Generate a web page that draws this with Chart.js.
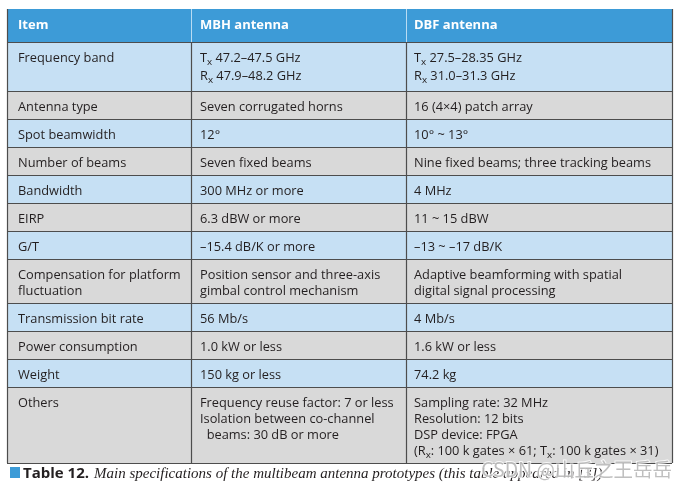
<!DOCTYPE html>
<html>
<head>
<meta charset="utf-8">
<script src="https://cdn.jsdelivr.net/npm/chart.js@4"></script>
<style>
  body { margin: 0; background: #fff; }
  canvas { display: block; }
</style>
</head>
<body>
<canvas id="table" width="688" height="489"></canvas>
<script>
// table content, {x} marks a subscript
const headers = ['Item', 'MBH antenna', 'DBF antenna'];

const items = [
    ['Frequency band'],
    ['Antenna type'],
    ['Spot beamwidth'],
    ['Number of beams'],
    ['Bandwidth'],
    ['EIRP'],
    ['G/T'],
    ['Compensation for platform', 'fluctuation'],
    ['Transmission bit rate'],
    ['Power consumption'],
    ['Weight'],
    ['Others'],
];

const mbhAntenna = [
    ['T{x} 47.2–47.5 GHz', 'R{x} 47.9–48.2 GHz'],
    ['Seven corrugated horns'],
    ['12°'],
    ['Seven fixed beams'],
    ['300 MHz or more'],
    ['6.3 dBW or more'],
    ['–15.4 dB/K or more'],
    ['Position sensor and three-axis', 'gimbal control mechanism'],
    ['56 Mb/s'],
    ['1.0 kW or less'],
    ['150 kg or less'],
    ['Frequency reuse factor: 7 or less', 'Isolation between co-channel', '  beams: 30 dB or more'],
];

const dbfAntenna = [
    ['T{x} 27.5–28.35 GHz', 'R{x} 31.0–31.3 GHz'],
    ['16 (4×4) patch array'],
    ['10° ~ 13°'],
    ['Nine fixed beams; three tracking beams'],
    ['4 MHz'],
    ['11 ~ 15 dBW'],
    ['–13 ~ –17 dB/K'],
    ['Adaptive beamforming with spatial', 'digital signal processing'],
    ['4 Mb/s'],
    ['1.6 kW or less'],
    ['74.2 kg'],
    ['Sampling rate: 32 MHz', 'Resolution: 12 bits', 'DSP device: FPGA', '(R{x}: 100 k gates × 61; T{x}: 100 k gates × 31)'],
];

const captionLabel = 'Table 12.';
const captionText = 'Main specifications of the multibeam antenna prototypes (this table appeared in [3])';
const watermark = 'CSDN @山丘之王岳岳';

const columns = [items, mbhAntenna, dbfAntenna];

const colors = {
    header: '#3d9bd7',
    blue: '#c6e0f4',
    gray: '#d9d9d9',
    border: '#4d4d4d',
    text: '#231f20',
};

const FONT = '"Open Sans", sans-serif';

function drawRich(ctx, str, x, y, size, weight) {
    const parts = str.split(/(\{[^}]*\})/);
    for (const part of parts) {
        if (!part) continue;
        if (part[0] === '{') {
            ctx.font = `${weight} ${size - 3}px ${FONT}`;
            const t = part.slice(1, -1);
            ctx.fillText(t, x, y + 3);
            x += ctx.measureText(t).width;
        } else {
            ctx.font = `${weight} ${size}px ${FONT}`;
            ctx.fillText(part, x, y);
            x += ctx.measureText(part).width;
        }
    }
}

const tablePlugin = {
    id: 'tablePlugin',
    afterDraw(chart, args, opts) {
        const ctx = chart.ctx;
        const xs = chart.scales.x;
        const ys = chart.scales.y;
        const colEdges = opts.colEdges.map(v => xs.getPixelForValue(v));
        const left = colEdges[0];
        const right = colEdges[colEdges.length - 1];

        // row edges from line counts
        let y = opts.top;
        const rowTops = [];
        items.forEach((_, i) => {
            rowTops.push(y);
            const cells = columns.map(c => c[i]);
            const lines = Math.max(...cells.map(c => c.length));
            const subs = Math.max(...cells.map(c => c.filter(l => l.includes('{')).length));
            y += 12 + 16 * lines + (lines < 4 ? 2.5 * subs : 0);
        });
        const bottom = y;
        const py = v => ys.getPixelForValue(v);

        ctx.save();
        // header
        ctx.fillStyle = colors.header;
        ctx.fillRect(left, py(opts.top - opts.headerHeight), right - left, py(opts.top) - py(opts.top - opts.headerHeight));
        ctx.fillStyle = '#ffffff';
        ctx.textBaseline = 'alphabetic';
        headers.forEach((h, c) => {
            drawRich(ctx, h, colEdges[c] + opts.padX[c], py(opts.top - opts.headerHeight + 20), 13, 'bold');
        });
        ctx.strokeStyle = '#b9dcf3';
        ctx.lineWidth = 1;
        for (let c = 1; c < colEdges.length - 1; c++) {
            ctx.beginPath();
            ctx.moveTo(Math.round(colEdges[c]) + 0.5, py(opts.top - opts.headerHeight));
            ctx.lineTo(Math.round(colEdges[c]) + 0.5, py(opts.top));
            ctx.stroke();
        }

        // body rows
        rowTops.forEach((top, i) => {
            const next = i + 1 < rowTops.length ? rowTops[i + 1] : bottom;
            ctx.fillStyle = i % 2 === 0 ? colors.blue : colors.gray;
            ctx.fillRect(left, py(top), right - left, py(next) - py(top));
            ctx.fillStyle = colors.text;
            columns.forEach((col, c) => {
                let ly = top + 19.5;
                col[i].forEach(line => {
                    drawRich(ctx, line, colEdges[c] + opts.padX[c], py(ly), 12.8, 'normal');
                    ly += line.includes('{') && col[i].length < 4 ? 18 : 16;
                });
            });
        });

        // grid lines
        ctx.strokeStyle = colors.border;
        ctx.lineWidth = 1.2;
        ctx.beginPath();
        rowTops.concat([bottom]).forEach(t => {
            const yy = Math.round(py(t)) + 0.5;
            ctx.moveTo(left, yy);
            ctx.lineTo(right, yy);
        });
        colEdges.forEach((cx, c) => {
            const xx = Math.round(cx) + 0.5;
            ctx.moveTo(xx, py(c === 0 || c === colEdges.length - 1 ? opts.top - opts.headerHeight : opts.top));
            ctx.lineTo(xx, py(bottom));
        });
        ctx.stroke();

        // caption
        const cy = py(bottom + 15);
        ctx.fillStyle = colors.header;
        ctx.fillRect(left + 3, cy - 11, 10, 11);
        ctx.fillStyle = colors.text;
        ctx.font = `bold 15px ${FONT}`;
        ctx.fillText(captionLabel, left + 16, cy);
        const lw = ctx.measureText(captionLabel).width;
        ctx.font = `italic 15px "Liberation Serif", "DejaVu Serif", serif`;
        ctx.fillText(captionText, left + 16 + lw + 5, cy);

        // watermark
        ctx.font = `19.5px "Noto Sans CJK SC", sans-serif`;
        ctx.textAlign = 'right';
        ctx.lineWidth = 2;
        ctx.strokeStyle = 'rgba(255,255,255,0.8)';
        ctx.strokeText(watermark, right, cy - 1);
        ctx.fillStyle = 'rgba(170,170,170,0.75)';
        ctx.fillText(watermark, right, cy - 1);
        ctx.restore();
    }
};

new Chart(document.getElementById('table'), {
    type: 'scatter',
    data: { datasets: [{ data: [] }] },
    options: {
        responsive: false,
        animation: false,
        devicePixelRatio: 1,
        layout: { padding: 0 },
        scales: {
            x: { type: 'linear', min: 0, max: 688, display: false },
            y: { type: 'linear', min: 0, max: 489, reverse: true, display: false },
        },
        plugins: {
            legend: { display: false },
            tooltip: { enabled: false },
            tablePlugin: {
                colEdges: [7, 191, 406, 672],
                padX: [11, 9, 8],
                top: 42,
                headerHeight: 33,
            },
        },
    },
    plugins: [tablePlugin],
});
</script>
</body>
</html>
